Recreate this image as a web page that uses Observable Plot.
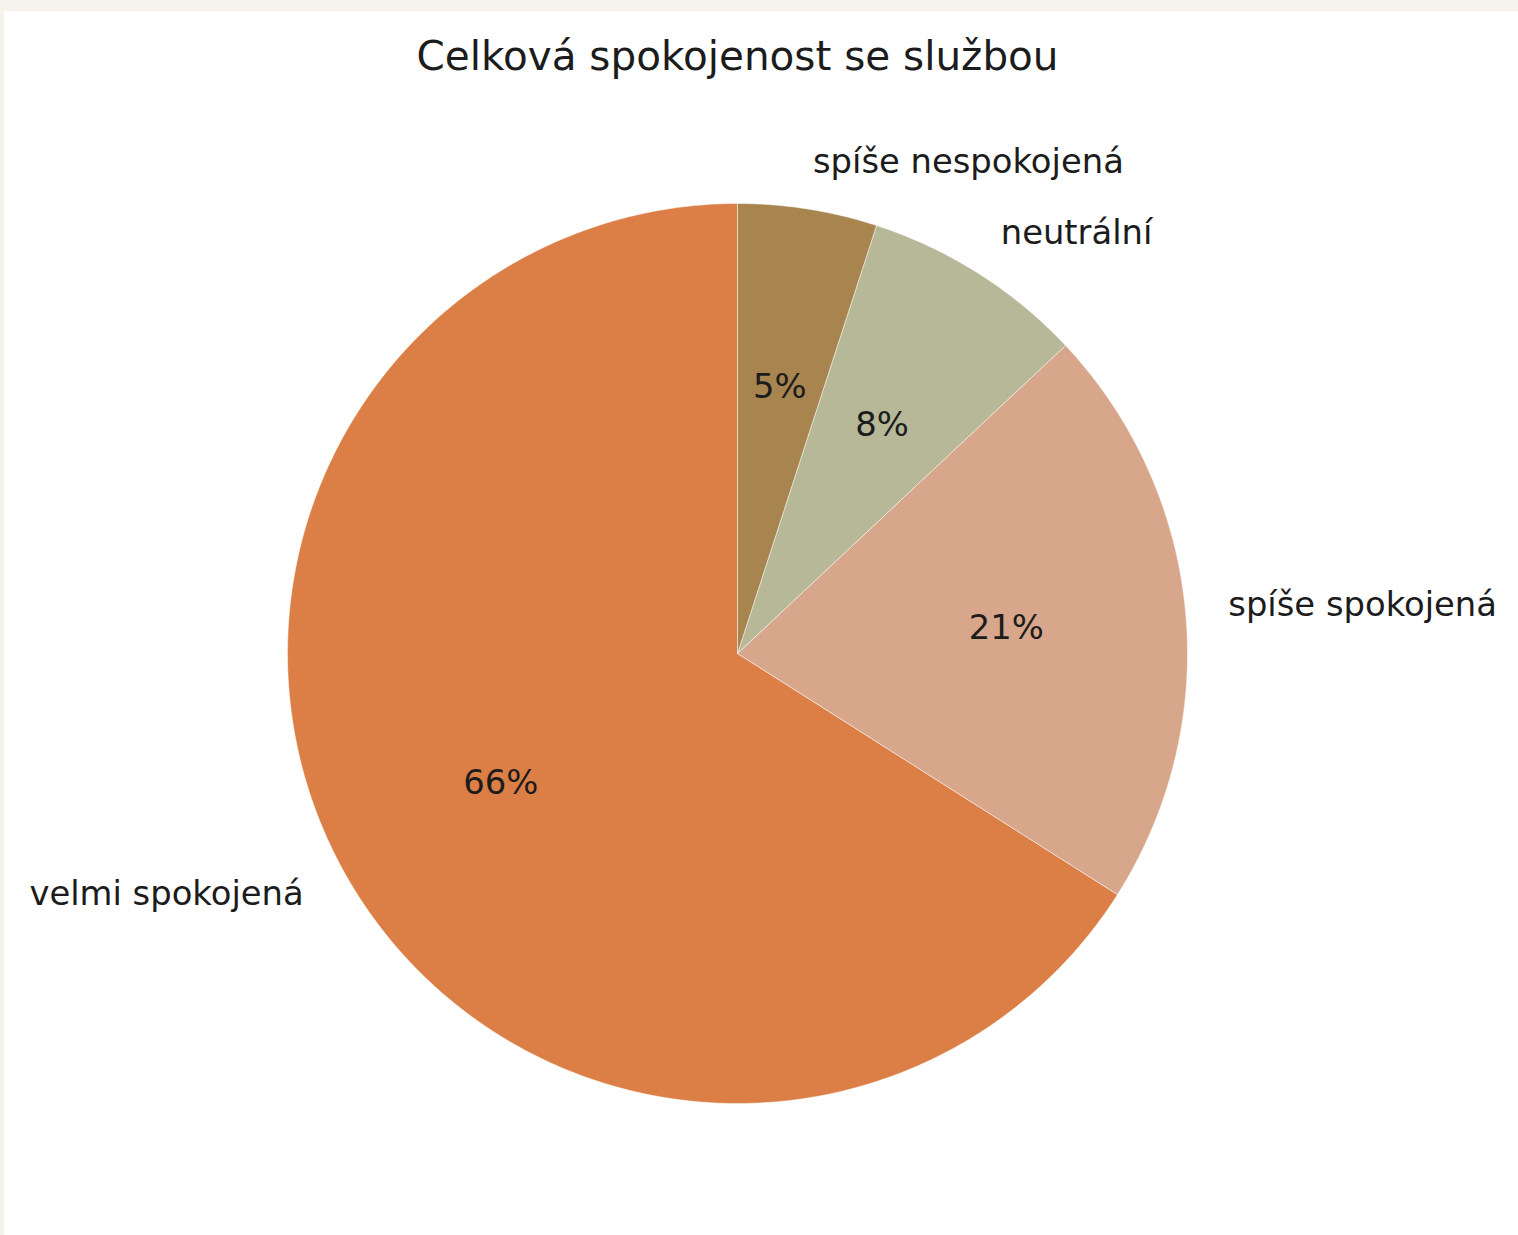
<!DOCTYPE html>
<html>
<head>
<meta charset="utf-8">
<script src="https://cdn.jsdelivr.net/npm/d3@7"></script>
<script src="https://cdn.jsdelivr.net/npm/@observablehq/plot@0.6"></script>
<style>
  html, body { margin: 0; padding: 0; background: #f5f3ec; width: 1518px; height: 1235px; overflow: hidden; }
  #chart { position: absolute; left: 4px; top: 11px; width: 1514px; height: 1224px; background: #ffffff; }
  #chart svg { display: block; background: #ffffff; }
</style>
</head>
<body>
<div id="chart"></div>
<script>
// ---- data ----
const title = "Celková spokojenost se službou";
const categories = ["velmi spokojená", "spíše spokojená", "neutrální", "spíše nespokojená"];
const values = [66, 21, 8, 5];
const colors = ["#dc7f46", "#d8a78b", "#b6b898", "#a8854f"];

// ---- layout ----
const W = 1514, H = 1224;
const R = 450;            // pie radius in px
const cx = 733, cy = 642; // pie centre in svg px
const fontFamily = "'DejaVu Sans', sans-serif";

// pie geometry (matplotlib style: start at 90°, counter-clockwise)
const total = d3.sum(values);
const slices = [];
let a0 = 90;
categories.forEach((c, i) => {
  const span = values[i] / total * 360;
  slices.push({cat: c, value: values[i], start: a0, end: a0 + span, mid: a0 + span / 2});
  a0 += span;
});

const rad = (deg) => deg * Math.PI / 180;
const polys = [];
for (const s of slices) {
  polys.push({cat: s.cat, x: 0, y: 0});
  const n = Math.max(2, Math.ceil((s.end - s.start) / 0.5));
  for (let k = 0; k <= n; k++) {
    const a = rad(s.start + (s.end - s.start) * k / n);
    polys.push({cat: s.cat, x: Math.cos(a), y: Math.sin(a)});
  }
  polys.push({cat: s.cat, x: 0, y: 0});
}

const pct = slices.map(s => ({
  text: Math.round(s.value / total * 100) + "%",
  x: 0.6 * Math.cos(rad(s.mid)), y: 0.6 * Math.sin(rad(s.mid))
}));
const labels = slices.map(s => ({
  text: s.cat,
  x: 1.1 * Math.cos(rad(s.mid)), y: 1.1 * Math.sin(rad(s.mid))
}));

const fs = 33.8;
const chart = Plot.plot({
  width: W, height: H,
  margin: 0,
  style: {fontFamily, background: "#ffffff", overflow: "visible"},
  x: {domain: [-cx / R, (W - cx) / R], axis: null},
  y: {domain: [-(H - cy) / R, cy / R], axis: null},
  color: {domain: categories, range: colors},
  marks: [
    Plot.line(polys, {x: "x", y: "y", z: "cat", fill: "cat", stroke: "#ffffff", strokeWidth: 0.8, strokeOpacity: 0.6, curve: "linear"}),
    Plot.text(pct, {x: "x", y: "y", text: "text", fontSize: fs, fill: "#1c1c1c", textAnchor: "middle", lineAnchor: "middle"}),
    Plot.text(labels.filter(d => d.x >= 0), {x: "x", y: "y", text: "text", fontSize: fs, fill: "#1c1c1c", textAnchor: "start", lineAnchor: "middle", dx: -2, dy: -2}),
    Plot.text(labels.filter(d => d.x < 0), {x: "x", y: "y", text: "text", fontSize: fs, fill: "#1c1c1c", textAnchor: "end", lineAnchor: "middle", dy: 2}),
    Plot.text([title], {x: () => 0, frameAnchor: "top", dy: 46, text: d => d, fontSize: 40.5, fill: "#1c1c1c", textAnchor: "middle", lineAnchor: "middle"})
  ]
});
document.getElementById("chart").appendChild(chart);
</script>
</body>
</html>
